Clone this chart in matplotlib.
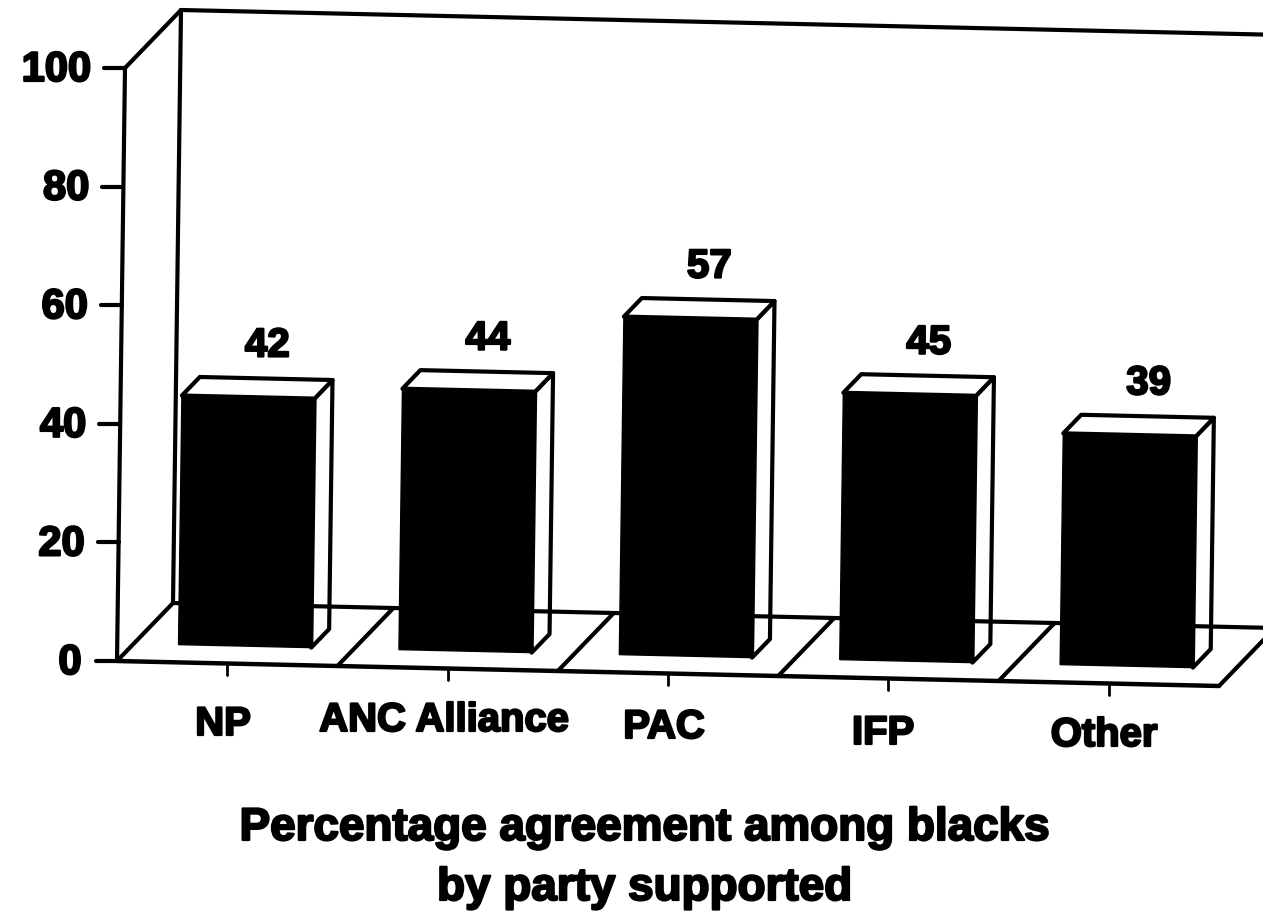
import numpy as np
import matplotlib
matplotlib.use('Agg')
import matplotlib.pyplot as plt
from matplotlib.patches import Polygon
import matplotlib.patheffects as pe

# chart data
parties = ['NP', 'ANC Alliance', 'PAC', 'IFP', 'Other']
agreement = [42, 44, 57, 45, 39]
y_ticks = [0, 20, 40, 60, 80, 100]
title_lines = ['Percentage agreement among blacks', 'by party supported']

# hand placed label centres, the scan does not line them up with the ticks
label_x = [223, 444, 664, 883, 1104]
label_y = [724, 720, 727, 733, 735]

plt.rcParams['font.family'] = ['Liberation Sans', 'DejaVu Sans']
fig = plt.figure(figsize=(12.63, 9.21), dpi=100)
ax = fig.add_axes([0, 0, 1, 1])
ax.set_xlim(0, 1263)
ax.set_ylim(921, 0)
ax.axis('off')

heavy = [pe.withStroke(linewidth=1.6, foreground='black')]
LW = 3.0


# oblique projection: u in category widths, v in percent, d in floor depth
def project(u, v, d=0.0):
    x = 117 + 220.4 * u + 0.08 * v + 56 * d
    y = 661 + 5.0 * u - 5.93 * v - 58 * d
    return x, y


def line(p, q, lw=LW):
    ax.plot([p[0], q[0]], [p[1], q[1]], color='black', lw=lw,
            solid_capstyle='round', clip_on=True)


n = len(parties)
top = y_ticks[-1]

# back wall and floor
line(project(0, 0), project(0, top))
line(project(0, 0, 1), project(0, top, 1))
line(project(0, top), project(0, top, 1))
line(project(0, top, 1), project(n, top, 1))
line(project(0, 0, 1), project(n, 0, 1))
line(project(0, 0), project(n, 0), lw=3.2)
for i in range(n + 1):
    line(project(i, 0), project(i, 0, 1))

# value axis ticks
for t in y_ticks:
    x, y = project(0, t)
    line((x, y), (x - 21, y))
    tx = x - 34 if t else x - 47
    ax.text(tx, y + 2, str(t), ha='right' if t else 'center', va='center',
            fontsize=30, fontweight='bold', path_effects=heavy)

# bars
bar_u0, bar_u1 = 0.203, 0.805
bar_d0, bar_d1 = 0.3, 0.62
for i, val in enumerate(agreement):
    u0, u1 = i + bar_u0, i + bar_u1
    # right side, top, then front face
    side = [project(u1, 0, bar_d0), project(u1, 0, bar_d1),
            project(u1, val, bar_d1), project(u1, val, bar_d0)]
    roof = [project(u0, val, bar_d0), project(u0, val, bar_d1),
            project(u1, val, bar_d1), project(u1, val, bar_d0)]
    front = [project(u0, 0, bar_d0), project(u1, 0, bar_d0),
             project(u1, val, bar_d0), project(u0, val, bar_d0)]
    ax.add_patch(Polygon(side, closed=True, fc='white', ec='black', lw=LW, joinstyle='round'))
    ax.add_patch(Polygon(roof, closed=True, fc='white', ec='black', lw=LW, joinstyle='round'))
    ax.add_patch(Polygon(front, closed=True, fc='black', ec='black', lw=1))

    cx, cy = project(i + 0.5, val, bar_d1)
    ax.text(cx + 2, cy - 33, str(val), ha='center', va='center', fontsize=29,
            fontweight='bold', path_effects=heavy)

    # category ticks and names
    p = project(i + 0.5, 0)
    line(p, (p[0], p[1] + 11), lw=2)
    ax.text(label_x[i], label_y[i], parties[i], ha='center', va='center',
            fontsize=28.8, fontweight='bold', path_effects=heavy)

# caption under the chart
ax.text(645, 828, title_lines[0], ha='center', va='center', fontsize=33,
        fontweight='bold', path_effects=heavy)
ax.text(645, 888, title_lines[1], ha='center', va='center', fontsize=33,
        fontweight='bold', path_effects=heavy)

fig.savefig('out.png', dpi=100, facecolor='white')
